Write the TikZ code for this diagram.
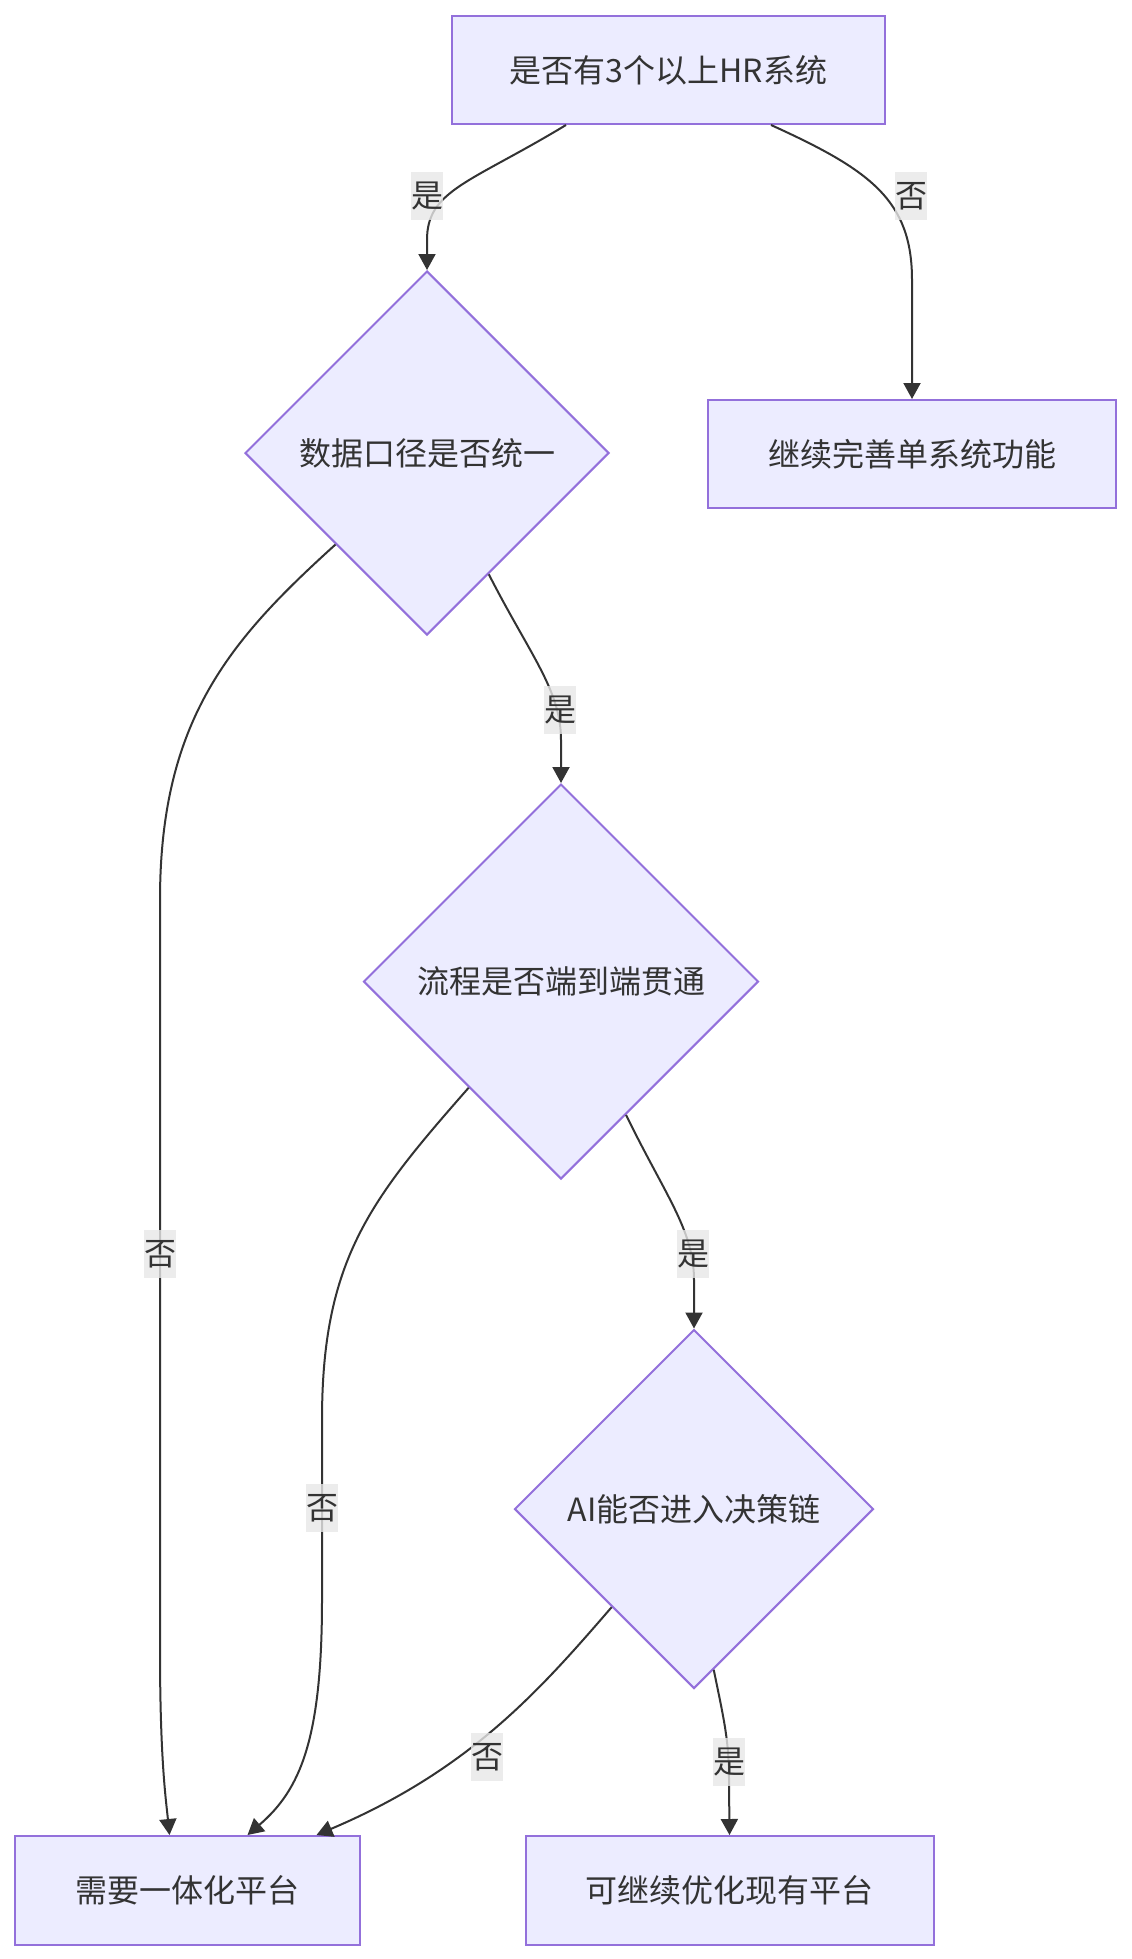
\documentclass[tikz,border=0pt]{standalone}
\usepackage{fontspec}
\setmainfont{Noto Sans CJK SC}
\usepackage{xcolor}
\usetikzlibrary{shapes.geometric,arrows.meta}
\definecolor{nodefill}{HTML}{ECECFF}
\definecolor{nodeline}{HTML}{9370DB}
\definecolor{edgeline}{HTML}{333333}
\definecolor{labelfill}{HTML}{E8E8E8}

\begin{document}
\begin{tikzpicture}[x=1pt,y=-1pt,
  font=\fontsize{32}{38}\selectfont, text=edgeline,
  procbox/.style={rectangle,draw=nodeline,fill=nodefill,line width=2pt,inner sep=0pt,minimum height=108pt},
  choice/.style={diamond,aspect=1,draw=nodeline,fill=nodefill,line width=2pt,inner sep=0pt},
  flow/.style={draw=edgeline,line width=2pt,-{Triangle[length=16pt,width=17pt]}},
  answer/.style={fill=labelfill,fill opacity=0.8,text opacity=1,inner sep=0pt,minimum width=32pt,minimum height=48pt}]
  \useasboundingbox[fill=white] (0,0) rectangle (1132,1959);
  \node[procbox,minimum width=433pt] (hr) at (668.5,70) {是否有3个以上HR系统};
  \node[procbox,minimum width=408pt] (single) at (912,454) {继续完善单系统功能};
  \node[choice,minimum width=364pt,minimum height=364pt] (data) at (427,453) {数据口径是否统一};
  \node[choice,minimum width=395pt,minimum height=395pt] (process) at (561,981.5) {流程是否端到端贯通};
  \node[choice,minimum width=359pt,minimum height=359pt] (aichain) at (694,1509) {AI能否进入决策链};
  \node[procbox,minimum width=345pt,minimum height=109pt] (unify) at (187.5,1890.5) {需要一体化平台};
  \node[procbox,minimum width=408pt,minimum height=109pt] (optimize) at (729.5,1890.5) {可继续优化现有平台};

  \draw[flow] ([xshift=-102.5pt]hr.south) .. controls (470,183) and (427,190) .. (427,240) -- (data.north);
  \draw[flow] ([xshift=102.5pt]hr.south) .. controls (870,170) and (912,200) .. (912,280) -- (single.north);
  \draw[flow] (data.297) .. controls (530,655) and (561,690) .. (561,740) -- (process.north);
  \draw[flow] (data.225) .. controls (230,640) and (160,720) .. (160,900) -- (160,1650)
    .. controls (160,1760) and (166,1800) .. ([xshift=-18pt]unify.north);
  \draw[flow] (process.229) .. controls (370,1200) and (322,1260) .. (322,1420) -- (322,1600)
    .. controls (322,1740) and (300,1790) .. ([xshift=60pt]unify.north);
  \draw[flow] (process.296) .. controls (665,1195) and (694,1230) .. (694,1280) -- (aichain.north);
  \draw[flow] (aichain.230) .. controls (540,1690) and (470,1770) .. ([xshift=129pt]unify.north);
  \draw[flow] (aichain.277) .. controls (724,1720) and (729,1740) .. (729,1780) -- (optimize.north);

  \node[answer] (yes1) at (427,196) {是};
  \node[answer] (no1) at (911,196) {否};
  \node[answer] (yes2) at (560,710) {是};
  \node[answer] (no2) at (160,1254) {否};
  \node[answer] (no3) at (322,1508) {否};
  \node[answer] (yes3) at (693,1254) {是};
  \node[answer] (no4) at (487,1757) {否};
  \node[answer] (yes4) at (729,1762) {是};
\end{tikzpicture}
\end{document}
